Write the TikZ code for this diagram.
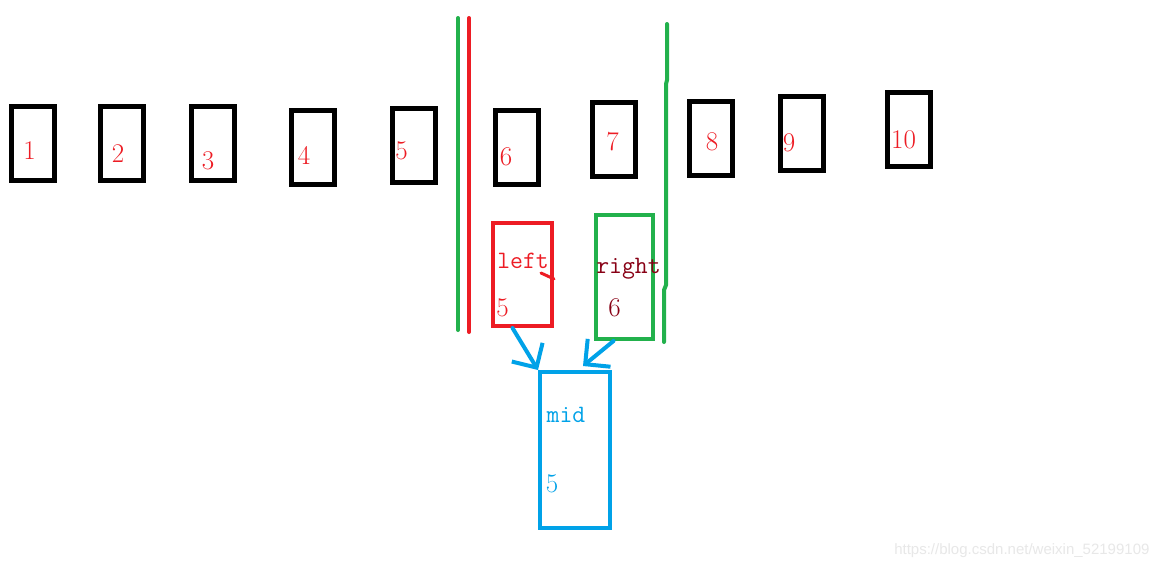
\documentclass[tikz,border=0pt]{standalone}
\usepackage{fontspec}
\newfontfamily\wmfont{Liberation Sans}
\usepackage{tikz}
\usetikzlibrary{arrows.meta}

\definecolor{pred}{HTML}{ED1C24}
\definecolor{pgreen}{HTML}{22B14C}
\definecolor{pblue}{HTML}{00A2E8}
\definecolor{pdark}{HTML}{880015}

\tikzset{
    cell/.style={draw, line width=5pt, minimum width=43pt, minimum height=74pt, inner sep=0pt},
    num/.style={anchor=base, inner sep=0pt, font=\fontsize{27}{32}\selectfont\rmfamily},
    word/.style={anchor=base, inner sep=0pt, font=\fontsize{25}{30}\selectfont\ttfamily},
    cut/.style={line width=4pt, line cap=round},
    ptr/.style={draw, line width=4pt, inner sep=0pt},
    sel/.style={pblue, line width=4pt, line cap=round, -{Straight Barb[length=18pt, width=36pt]}},
}

\begin{document}
\begin{tikzpicture}[x=1pt, y=-1pt]

    \fill[white] (0,0) rectangle (1162,570);

    \foreach \i/\cx/\cy/\lx/\ly in {1/33/143.5/29.5/159, 2/122/143.5/118/162,
        3/213/143/208/169, 4/312.5/147/304/164, 5/414/145.5/401.5/159,
        6/517/147/506/165, 7/613.5/139.5/612.5/150, 8/711/138/712/150,
        9/801.5/133.5/789/151, 10/909/129.5/903.5/148}
    {
        \node[cell] (b\i) at (\cx,\cy) {};
        \node[num, pred] (n\i) at (\lx,\ly) {\i};
    }

    \draw[cut, pgreen] (458,18) -- (458,330);
    \draw[cut, pred] (469,18) -- (469,332);
    \draw[cut, pgreen] (667,24) -- (667,80) -- (666,84) -- (666,285) -- (664,290) -- (664,342);

    \node[ptr, pred, minimum width=59pt, minimum height=103pt] (leftbox) at (522.5,274.5) {};
    \node[word, pred] (lname) at (523,268) {left};
    \node[num, pred] (lval) at (502.5,316) {5};
    \draw[pred, line width=3pt, line cap=round] ([xshift=-13pt, yshift=1.5pt]leftbox.east) -- ([yshift=-4.5pt]leftbox.east);

    \node[ptr, pgreen, minimum width=57pt, minimum height=124pt] (rightbox) at (624.5,277) {};
    \node[word, pdark] (rname) at (628.5,273) {right};
    \node[num, pdark] (rval) at (614.5,316) {6};

    \node[ptr, pblue, minimum width=70pt, minimum height=156pt] (midbox) at (575,450) {};
    \node[word, pblue] (mname) at (566,422) {mid};
    \node[num, pblue] (mval) at (552,492) {5};

    \draw[sel] ([xshift=-10pt]leftbox.south) -- (midbox.north west);
    \draw[sel] ([xshift=-11pt]rightbox.south) -- ([xshift=8pt, yshift=4pt]midbox.north);

    \node[anchor=east, text=black!9, font=\wmfont\fontsize{15}{18}\selectfont] (mark) at (1153,551) {https://blog.csdn.net/weixin\_52199109};

\end{tikzpicture}
\end{document}
